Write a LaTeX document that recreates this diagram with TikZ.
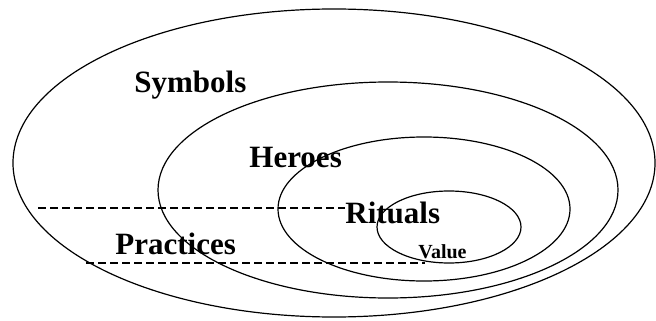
\documentclass[tikz,border=0pt]{standalone}
\usepackage{fontspec}
\setmainfont{Liberation Serif}
\usetikzlibrary{positioning}
\tikzset{
  ring/.style={draw, line width=0.6pt},
  layer/.style={font=\fontsize{15.5}{18}\selectfont\bfseries, inner sep=0pt, anchor=base west},
  core/.style={font=\fontsize{10}{12}\selectfont\bfseries, inner sep=0pt, anchor=base west},
  divide/.style={line width=1pt, dash pattern=on 4pt off 2pt}
}

\begin{document}
\begin{tikzpicture}[x=0.5pt,y=-0.5pt]
  \useasboundingbox (0,0) rectangle (656,320);
  % onion layers
  \draw[ring] (334,163) ellipse [x radius=321, y radius=154];
  \draw[ring] (388,190) ellipse [x radius=230, y radius=108];
  \draw[ring] (424,209) ellipse [x radius=146, y radius=72];
  \draw[ring] (449,227) ellipse [x radius=72, y radius=36];
  % labels
  \node[layer] (symbols) at (134,93) {Symbols};
  \node[layer] (heroes) at (249,167) {Heroes};
  \node[layer] (rituals) at (345,223) {Rituals};
  \node[layer] (practices) at (115,254) {Practices};
  \node[core] (value) at (418,258) {Value};
  % practices band
  \coordinate (topL) at (38,208);
  \coordinate (botL) at (86,263);
  \draw[divide] (topL) -- (rituals.west |- topL);
  \draw[divide] (botL) -- (425,263);
\end{tikzpicture}
\end{document}
